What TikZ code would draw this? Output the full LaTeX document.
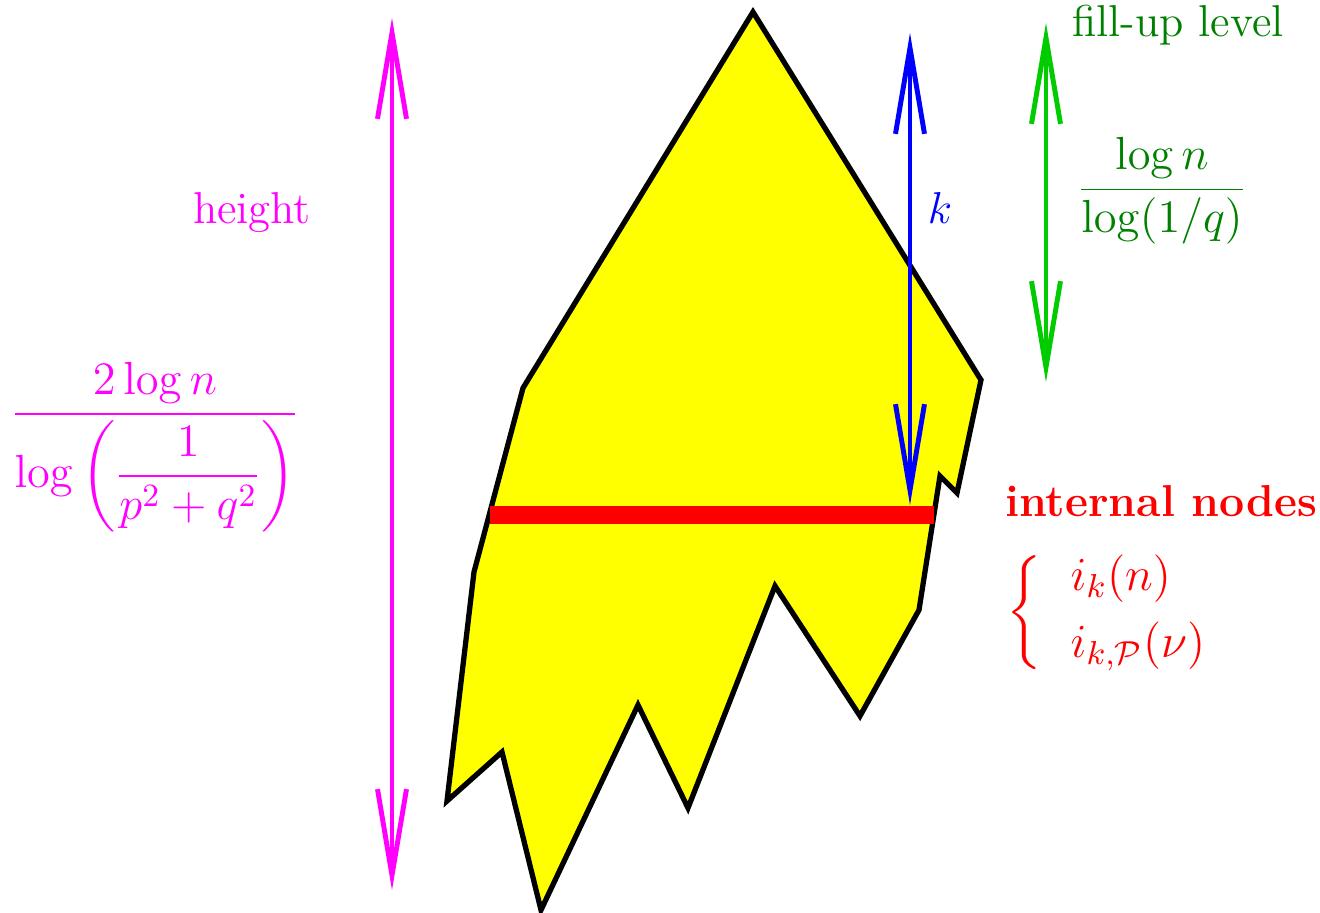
\RequirePackage{fix-cm}
\documentclass[tikz,border=0pt]{standalone}
\usepackage{amsmath,amssymb}
\usepackage{xcolor}
\usepackage{tikz}
\usetikzlibrary{arrows.meta,positioning}
\definecolor{arrowgreen}{RGB}{0,204,0}
\definecolor{textgreen}{RGB}{0,128,0}
\definecolor{pmagenta}{RGB}{255,0,255}
\definecolor{pyellow}{RGB}{255,255,0}
\definecolor{pblue}{RGB}{0,0,255}
\definecolor{pred}{RGB}{255,0,0}
\begin{document}
\begin{tikzpicture}[x=0.01cm,y=-0.01cm,
      dim/.style={line width=1.4pt,{Straight Barb[length=0.86cm,width=0.29cm]}-{Straight Barb[length=0.86cm,width=0.29cm]}},
      lbl/.style={font=\fontsize{12.7}{15}\selectfont,inner sep=0pt},
      mth/.style={font=\fontsize{13.2}{16}\selectfont,inner sep=0pt}
    ]
      \useasboundingbox (0,0) rectangle (1320,913);
      % Tree outline
      \filldraw[fill=pyellow,draw=black,line width=1.5pt,line join=miter]
        (753,12) -- (981,380) -- (957,493) -- (940,476) -- (919,610) -- (860,716)
        -- (775,586) -- (688,808) -- (638,705) -- (541,910) -- (502,752)
        -- (447,801) -- (474,572) -- (523,388) -- cycle;
      % Level of internal nodes
      \coordinate (lvlL) at (490,515);
      \coordinate (lvlR) at (934,515);
      \draw[pred,line width=5.2pt] (lvlL) -- (lvlR);
      % Height
      \coordinate (htop) at (392,18);
      \coordinate (hbot) at (392,890);
      \draw[dim,pmagenta] (hbot) -- (htop);
      \node[lbl,pmagenta] (hlabel) at (252,213) {height};
      \node[mth,pmagenta] (hfrac) at (155,447)
        {$\dfrac{2\log n}{\log\left(\dfrac{1}{p^2+q^2}\right)}$};
      % Depth k
      \coordinate (ktop) at (910,33);
      \coordinate (kbot) at (910,505);
      \draw[dim,pblue] (kbot) -- (ktop);
      \node[lbl,pblue] (klabel) at (940,208) {$k$};
      % Fill-up level
      \coordinate (ftop) at (1046,23);
      \coordinate (fbot) at (1046,382);
      \draw[dim,arrowgreen] (fbot) -- (ftop);
      \node[lbl,textgreen] (flabel) at (1178,25) {fill-up level};
      \node[mth,textgreen] (ffrac) at (1162,191) {$\dfrac{\log n}{\log(1/q)}$};
      % Internal nodes
      \node[lbl,pred,font=\fontsize{12.7}{15}\selectfont\bfseries] (ilabel) at (1161,501) {internal nodes};
      \node[mth,pred,font=\fontsize{13.5}{16}\selectfont] (ilist) at (1117,613)
        {$\left\{\begin{array}{@{\hspace{8pt}}l}i_k(n)\\[3pt] i_{k,\mathcal{P}}(\nu)\end{array}\right.$};
    \end{tikzpicture}
\end{document}
